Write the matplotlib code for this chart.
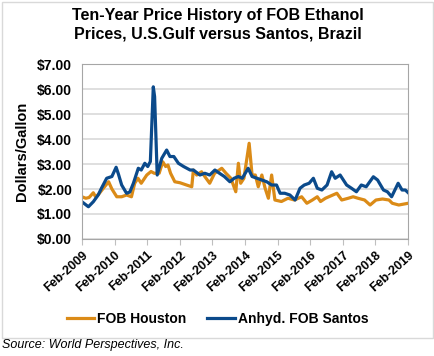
import matplotlib.pyplot as plt
import matplotlib

matplotlib.rcParams['font.family'] = ['Liberation Sans', 'DejaVu Sans']

# weekly-ish price readings, x in decimal years
houston_t = [2009.08, 2009.2, 2009.3, 2009.43, 2009.5, 2009.6, 2009.75, 2009.9, 2010.0, 2010.15,
             2010.3, 2010.45, 2010.6, 2010.7, 2010.8, 2010.9, 2011.07, 2011.2, 2011.3, 2011.45,
             2011.56, 2011.65, 2011.72, 2011.8, 2011.93, 2012.09, 2012.29, 2012.45, 2012.5, 2012.6,
             2012.75, 2012.85, 2013.0, 2013.15, 2013.37, 2013.5, 2013.65, 2013.8, 2013.88, 2013.95,
             2014.05, 2014.21, 2014.3, 2014.4, 2014.49, 2014.6, 2014.7, 2014.8, 2014.9, 2015.0,
             2015.2, 2015.4, 2015.6, 2015.82, 2015.98, 2016.15, 2016.3, 2016.4, 2016.55, 2016.9,
             2017.05, 2017.25, 2017.4, 2017.55, 2017.75, 2017.92, 2018.1, 2018.3, 2018.5, 2018.6,
             2018.8, 2019.09]
houston_v = [1.69, 1.63, 1.66, 1.85, 1.69, 1.8, 2.05, 2.29, 2.0, 1.69,
             1.69, 1.76, 1.69, 2.23, 2.43, 2.23, 2.56, 2.7, 2.63, 2.63,
             3.09, 2.9, 2.96, 2.63, 2.29, 2.25, 2.16, 2.09, 2.76, 2.56,
             2.69, 2.5, 2.23, 2.63, 2.83, 2.63, 2.43, 1.89, 3.03, 2.23,
             2.43, 3.83, 2.56, 2.56, 2.09, 2.56, 2.03, 1.63, 2.56, 1.56,
             1.5, 1.63, 1.56, 1.69, 1.43, 1.56, 1.69, 1.5, 1.63, 1.83,
             1.56, 1.63, 1.69, 1.63, 1.56, 1.36, 1.56, 1.6, 1.56, 1.43,
             1.36, 1.43]

santos_t = [2009.08, 2009.28, 2009.43, 2009.58, 2009.68, 2009.84, 2010.0, 2010.13, 2010.2, 2010.3,
            2010.45, 2010.55, 2010.66, 2010.81, 2010.9, 2011.01, 2011.1, 2011.18, 2011.27, 2011.31,
            2011.39, 2011.53, 2011.68, 2011.78, 2011.9, 2012.04, 2012.2, 2012.4, 2012.5, 2012.7,
            2012.85, 2013.0, 2013.16, 2013.3, 2013.45, 2013.62, 2013.75, 2013.88, 2014.0, 2014.18,
            2014.3, 2014.45, 2014.6, 2014.75, 2014.9, 2015.05, 2015.16, 2015.3, 2015.46, 2015.62,
            2015.77, 2015.9, 2016.05, 2016.18, 2016.3, 2016.44, 2016.6, 2016.74, 2016.85, 2017.0,
            2017.2, 2017.35, 2017.5, 2017.65, 2017.8, 2018.02, 2018.15, 2018.33, 2018.45, 2018.58,
            2018.68, 2018.78, 2018.9, 2019.0, 2019.09]
santos_v = [1.49, 1.29, 1.49, 1.76, 2.03, 2.43, 2.5, 2.87, 2.6, 2.16,
            1.83, 1.88, 2.23, 2.83, 2.76, 3.03, 2.9, 3.1, 6.09, 5.7,
            2.56, 3.23, 3.56, 3.3, 3.3, 3.03, 2.9, 2.76, 2.76, 2.56,
            2.63, 2.56, 2.76, 2.63, 2.5, 2.29, 2.43, 2.5, 2.43, 2.83,
            2.5, 2.43, 2.36, 2.29, 2.16, 2.16, 1.83, 1.83, 1.76, 1.56,
            2.03, 2.16, 2.23, 2.43, 2.03, 1.96, 2.16, 2.69, 2.43, 2.56,
            2.16, 2.03, 1.89, 2.16, 2.09, 2.49, 2.36, 1.96, 1.89, 1.69,
            1.96, 2.23, 1.96, 1.96, 1.85]

tick_years = list(range(2009, 2020))
tick_labels = [f'Feb-{y}' for y in tick_years]

fig = plt.figure(figsize=(4.35, 3.56), dpi=100)
ax = fig.add_axes([0.1885, 0.3287, 0.7495, 0.4913])

ax.plot(houston_t, houston_v, color='#DB8B17', lw=2.3, label='FOB Houston')
ax.plot(santos_t, santos_v, color='#0B4A8B', lw=2.3, label='Anhyd. FOB Santos')

ax.set_xlim(2009 + 1/12, 2019 + 1/12)
ax.set_ylim(0, 7)
ax.set_yticks(range(0, 8))
ax.set_yticklabels([f'${v}.00' for v in range(0, 8)], fontsize=10, fontweight='bold')
ax.set_xticks([y + 1/12 for y in tick_years])
ax.set_xticklabels(tick_labels, rotation=42, ha='right', rotation_mode='anchor',
                   fontsize=9, fontweight='bold')
ax.tick_params(axis='y', length=0, pad=7)
ax.tick_params(axis='x', length=4, color='#bfbfbf', pad=3)
ax.grid(axis='y', color='#d9d9d9', lw=1.2)
ax.set_axisbelow(True)
for s in ax.spines.values():
    s.set_color('#a6a6a6')
ax.set_ylabel('Dollars/Gallon', fontsize=10.5, fontweight='bold', labelpad=6)

fig.text(0.5, 0.978, 'Ten-Year Price History of FOB Ethanol\nPrices, U.S.Gulf versus Santos, Brazil',
         ha='center', va='top', fontsize=11.5, fontweight='bold', linespacing=1.3)

fig.legend(loc='center', bbox_to_anchor=(0.5, 0.105), ncol=2, frameon=False,
           prop={'size': 10, 'weight': 'bold'}, handlelength=2.0, handletextpad=0.2,
           columnspacing=1.5)

fig.patches.append(plt.Rectangle((0.005, 0.05), 0.99, 0.944, transform=fig.transFigure,
                                 fill=False, ec='#d9d9d9', lw=1))
fig.text(0.005, 0.03, 'Source: World Perspectives, Inc.', ha='left', va='center',
         fontsize=9, style='italic')

fig.savefig('out.png', dpi=100)
